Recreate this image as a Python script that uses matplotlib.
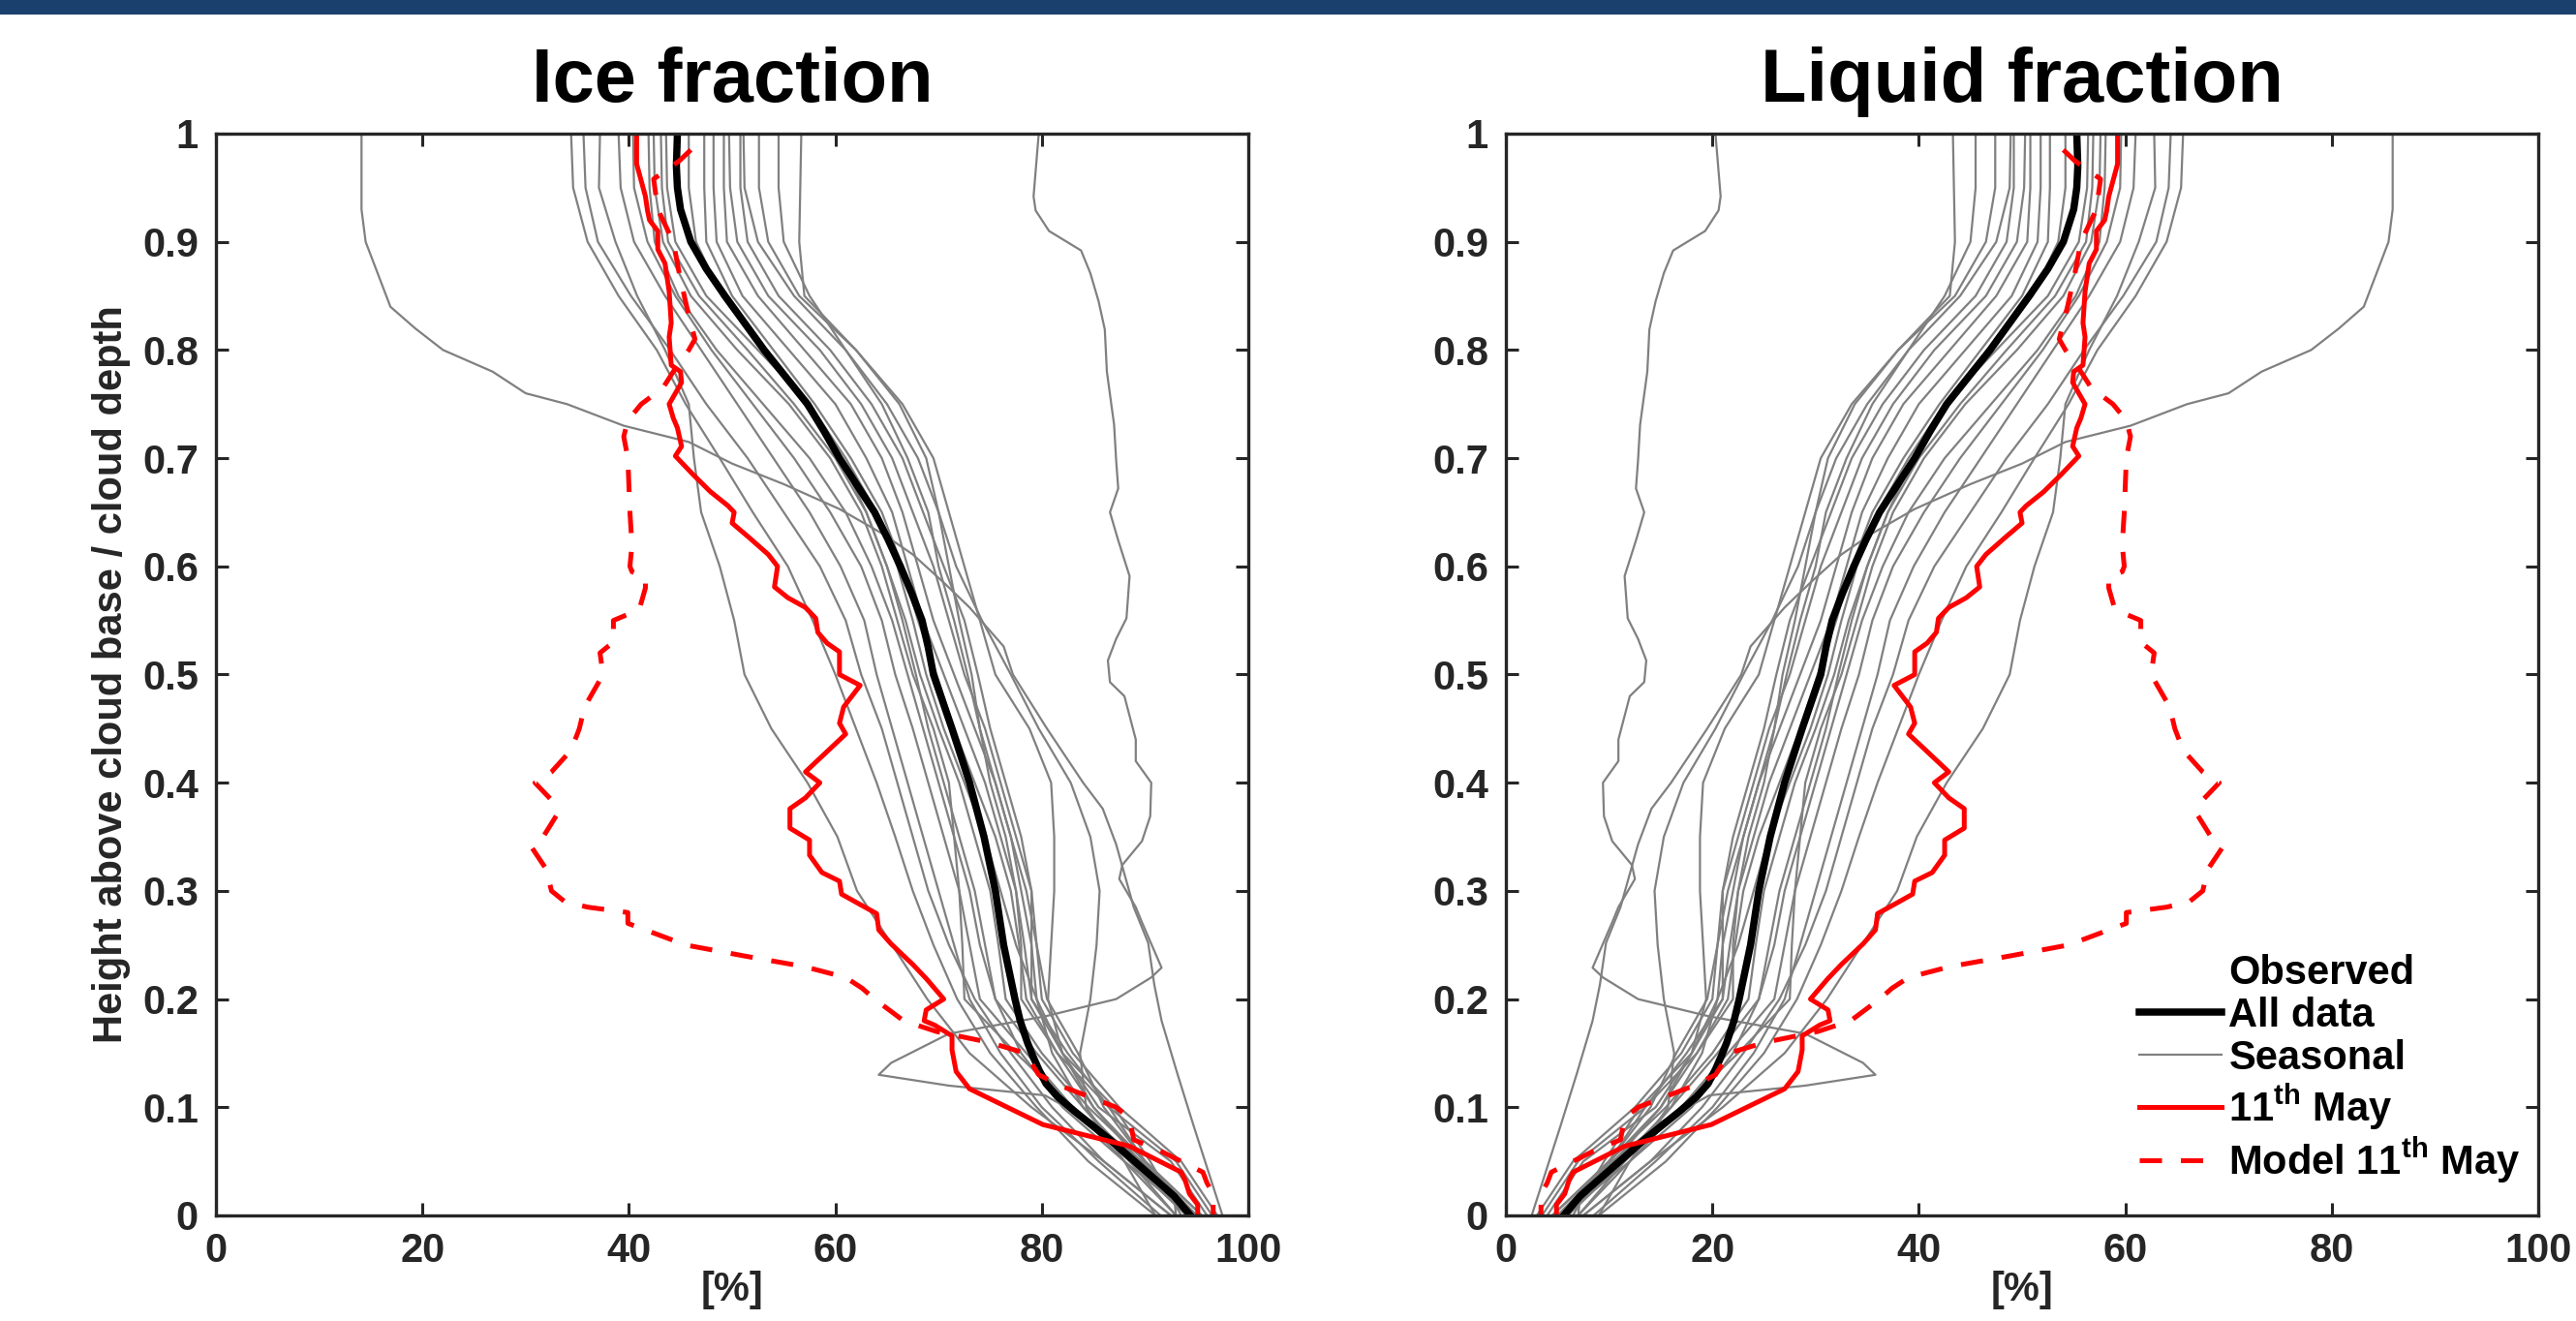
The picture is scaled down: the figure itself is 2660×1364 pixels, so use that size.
import numpy as np
import matplotlib
matplotlib.use("Agg")
import matplotlib.pyplot as plt
from matplotlib.lines import Line2D
from matplotlib.patches import Rectangle

plt.rcParams['font.family'] = ['Liberation Sans', 'DejaVu Sans']
plt.rcParams['font.weight'] = 'bold'
plt.rcParams['axes.labelweight'] = 'bold'
plt.rcParams['mathtext.fontset'] = 'custom'
plt.rcParams['mathtext.rm'] = 'Liberation Sans:bold'
plt.rcParams['mathtext.bf'] = 'Liberation Sans:bold'
plt.rcParams['mathtext.it'] = 'Liberation Sans:bold'

# ---- data (ice fraction, %); liquid = 100 - ice ----
levels = [1.0, 0.95, 0.9, 0.85, 0.8, 0.75, 0.7, 0.65, 0.6, 0.55, 0.5,
          0.45, 0.4, 0.35, 0.3, 0.25, 0.2, 0.15, 0.1, 0.05, 0.0]

all_y = [1.0, 0.97, 0.95, 0.93, 0.9, 0.875, 0.85, 0.825, 0.8, 0.775, 0.75, 0.725, 0.7,
         0.675, 0.65, 0.625, 0.6, 0.575, 0.55, 0.525, 0.5, 0.45, 0.4, 0.35, 0.3, 0.25,
         0.2, 0.18, 0.16, 0.148, 0.135, 0.122, 0.11, 0.096, 0.07, 0.044, 0.018, 0.0]
all_x = [44.7, 44.6, 44.7, 45.0, 46.0, 47.5, 49.3, 51.2, 53.1, 55.2, 57.3, 58.9, 60.4,
         62.1, 63.8, 65.1, 66.3, 67.4, 68.4, 69.0, 69.5, 71.3, 73.0, 74.4, 75.5, 76.3,
         77.4, 77.9, 78.6, 79.1, 79.7, 80.4, 81.5, 83.2, 86.6, 89.7, 92.8, 94.4]

# seasonal profiles on the common levels
seasonal = [
    [34.4, 34.6, 36.0, 39.0, 42.7, 45.5, 48.8, 52.0, 55.4, 57.8, 60.0, 62.0, 64.0, 65.8, 67.5, 69.5, 71.8, 75.0, 79.5, 84.5, 91.0],
    [35.6, 35.8, 37.0, 40.2, 44.0, 47.5, 51.5, 55.0, 58.5, 61.0, 62.5, 64.5, 66.0, 67.5, 69.0, 71.0, 73.5, 77.0, 81.0, 86.0, 92.5],
    [37.2, 37.1, 38.7, 40.8, 43.5, 45.8, 46.3, 47.0, 48.8, 50.2, 51.2, 53.8, 57.3, 60.2, 62.1, 65.5, 68.9, 73.0, 79.0, 86.0, 92.5],
    [39.0, 39.2, 40.5, 43.5, 47.0, 50.5, 54.0, 57.5, 60.5, 62.8, 64.0, 65.5, 67.0, 68.5, 70.0, 71.5, 73.0, 76.0, 80.0, 85.5, 91.5],
    [40.4, 40.5, 41.8, 44.5, 48.0, 52.0, 56.0, 59.5, 62.5, 64.5, 65.8, 67.5, 69.0, 70.5, 72.0, 73.0, 74.0, 78.5, 83.0, 88.5, 94.0],
    [41.9, 42.0, 42.5, 44.8, 48.5, 53.0, 57.5, 61.0, 63.5, 65.5, 67.0, 68.5, 70.0, 71.5, 73.0, 74.0, 75.5, 79.5, 84.0, 89.0, 95.0],
    [42.4, 42.5, 43.3, 46.0, 50.5, 55.5, 59.5, 62.5, 64.5, 66.0, 67.5, 69.5, 71.0, 71.5, 72.0, 72.3, 72.5, 77.5, 83.0, 88.0, 94.5],
    [43.1, 43.2, 43.8, 46.8, 51.5, 56.0, 60.0, 63.0, 65.0, 66.8, 68.2, 70.0, 72.0, 73.5, 75.0, 75.8, 76.5, 80.0, 84.5, 90.0, 95.5],
    [43.6, 43.7, 44.5, 47.5, 52.5, 57.5, 61.0, 64.0, 66.0, 67.5, 68.8, 70.5, 72.5, 74.5, 76.0, 77.5, 79.5, 82.0, 85.5, 92.5, 96.0],
    [45.8, 45.8, 46.5, 49.0, 53.0, 57.0, 60.5, 63.0, 65.0, 66.5, 67.8, 69.0, 70.5, 72.0, 73.5, 74.5, 75.5, 78.0, 82.0, 88.0, 93.0],
    [47.3, 47.3, 47.5, 50.0, 54.0, 58.0, 61.5, 64.5, 66.5, 68.0, 69.8, 71.5, 73.5, 75.5, 77.0, 77.8, 78.5, 81.5, 85.0, 89.5, 94.8],
    [48.2, 48.2, 48.5, 51.0, 55.5, 60.0, 63.0, 65.5, 67.0, 68.5, 70.5, 72.5, 74.5, 76.0, 77.5, 78.3, 79.0, 82.5, 86.5, 93.0, 96.5],
    [49.2, 49.2, 49.5, 52.5, 57.0, 61.5, 64.5, 66.5, 68.0, 69.5, 71.5, 73.5, 75.5, 77.0, 78.5, 79.5, 80.5, 83.5, 86.0, 90.0, 95.5],
    [49.7, 49.8, 50.5, 53.5, 58.5, 62.5, 65.5, 67.5, 69.5, 71.0, 72.5, 74.5, 76.0, 77.5, 79.0, 79.5, 80.0, 83.0, 87.5, 93.5, 97.0],
    [50.8, 50.8, 51.5, 54.5, 59.5, 63.5, 66.5, 68.5, 70.5, 72.5, 73.8, 75.0, 76.5, 78.0, 79.0, 79.0, 79.0, 82.0, 87.0, 90.5, 93.5],
    [51.1, 51.2, 52.5, 56.0, 61.0, 65.0, 68.0, 70.0, 71.0, 72.0, 73.2, 74.0, 75.0, 76.5, 77.5, 78.0, 78.0, 81.5, 86.5, 90.0, 94.0],
    [52.6, 52.6, 53.5, 56.5, 62.0, 66.5, 69.5, 71.0, 72.5, 74.0, 75.5, 78.8, 80.9, 81.2, 81.2, 80.9, 80.6, 82.0, 85.0, 90.0, 95.0],
    [54.5, 54.5, 55.0, 57.5, 61.0, 64.5, 67.0, 69.0, 70.0, 71.5, 72.8, 74.0, 75.5, 77.0, 78.0, 79.0, 79.5, 81.0, 84.0, 88.5, 93.0],
    [56.7, 56.6, 56.5, 57.0, 62.0, 66.2, 68.8, 70.0, 71.7, 74.2, 77.0, 79.7, 82.8, 84.7, 85.6, 85.3, 84.7, 83.7, 84.3, 88.0, 91.0],
]

# two odd seasonal profiles with their own height points
odd1_y = [1.0, 0.93, 0.9, 0.87, 0.84, 0.82, 0.8, 0.78, 0.76, 0.75, 0.73, 0.715, 0.695, 0.676,
          0.653, 0.63, 0.611, 0.585, 0.562, 0.526, 0.5, 0.45, 0.4, 0.376, 0.343, 0.285,
          0.252, 0.213, 0.18, 0.132, 0.083, 0.037, 0.0]
odd1_x = [14.1, 14.1, 14.5, 15.7, 16.9, 19.3, 22.0, 26.8, 30.0, 34.0, 39.5, 45.8, 50.0, 55.0,
          60.4, 64.6, 67.5, 70.5, 73.0, 76.3, 77.2, 80.5, 84.0, 85.9, 87.2, 88.9,
          90.3, 90.9, 91.6, 93.1, 94.7, 96.25, 97.5]

odd2_y = [1.0, 0.942, 0.929, 0.91, 0.892, 0.871, 0.845, 0.819, 0.78, 0.731, 0.698, 0.672,
          0.65, 0.624, 0.591, 0.552, 0.533, 0.513, 0.493, 0.48, 0.44, 0.42, 0.4, 0.369,
          0.346, 0.324, 0.311, 0.285, 0.271, 0.229, 0.22, 0.2, 0.184, 0.168, 0.141, 0.13,
          0.12, 0.111, 0.086, 0.05, 0.018, 0.0]
odd2_x = [79.7, 79.2, 79.4, 80.7, 83.8, 84.7, 85.5, 86.1, 86.3, 87.0, 87.2, 87.4,
          86.6, 87.4, 88.5, 88.2, 87.2, 86.4, 86.6, 88.0, 89.1, 89.1, 90.6, 90.5,
          89.7, 87.8, 87.5, 89.1, 89.7, 91.6, 90.6, 87.2, 80.3, 71.0, 65.4, 64.2,
          71.0, 80.3, 85.0, 89.7, 92.8, 93.0]

may_y = [1.0, 0.972, 0.942, 0.929, 0.92, 0.91, 0.893, 0.88, 0.854, 0.825, 0.812, 0.786, 0.78,
         0.77, 0.75, 0.737, 0.728, 0.711, 0.702, 0.685, 0.669, 0.656, 0.65, 0.64, 0.627,
         0.611, 0.6, 0.581, 0.571, 0.562, 0.552, 0.539, 0.529, 0.521, 0.5, 0.49, 0.47,
         0.455, 0.445, 0.41, 0.40, 0.386, 0.376, 0.358, 0.347, 0.333, 0.317, 0.309, 0.297,
         0.289, 0.279, 0.264, 0.251, 0.232, 0.219, 0.2, 0.19, 0.18, 0.176, 0.166, 0.153,
         0.133, 0.117, 0.084, 0.064, 0.04, 0.032, 0.02, 0.01, 0.0]
may_x = [40.75, 40.75, 41.6, 41.8, 42.0, 42.8, 42.8, 43.5, 43.9, 44.1, 43.9, 44.1, 45.0,
         45.1, 43.9, 44.3, 44.7, 45.1, 44.5, 46.2, 47.9, 49.6, 50.2, 50.0, 51.6,
         53.5, 54.4, 54.1, 55.4, 57.1, 58.1, 58.3, 59.2, 60.4, 60.4, 62.4, 60.8,
         60.4, 61.0, 57.1, 58.5, 57.1, 55.6, 55.6, 57.5, 57.5, 58.7, 60.4, 60.6,
         62.1, 64.0, 64.2, 65.4, 67.5, 68.8, 70.5, 68.8, 68.6, 69.6, 71.3, 71.3,
         71.7, 73.0, 80.1, 88.5, 93.5, 93.9, 94.3, 95.1, 95.1]

model_y = [0.985, 0.975, 0.958, 0.93, 0.9, 0.87, 0.84, 0.81, 0.8, 0.78, 0.765, 0.75, 0.735,
           0.72, 0.70, 0.65, 0.62, 0.60, 0.595, 0.59, 0.58, 0.56, 0.55, 0.53, 0.52, 0.5,
           0.47, 0.45, 0.43, 0.41, 0.40, 0.385, 0.37, 0.35, 0.34, 0.32, 0.30, 0.29, 0.285,
           0.28, 0.27, 0.26, 0.25, 0.24, 0.23, 0.22, 0.21, 0.2, 0.18, 0.17, 0.16, 0.15,
           0.13, 0.12, 0.1, 0.09, 0.07, 0.06, 0.04, 0.03, 0.02, 0.0]
model_x = [46.0, 44.9, 42.4, 42.8, 44.3, 44.9, 45.6, 46.4, 45.8, 44.3, 43.3, 41.2, 39.9,
           39.5, 39.9, 40.1, 40.3, 40.1, 40.3, 41.6, 41.6, 41.0, 38.5, 38.5, 37.2, 37.5,
           35.7, 35.2, 34.4, 32.5, 30.9, 32.4, 33.0, 31.7, 30.6, 32.0, 32.5, 33.8, 36.0,
           39.9, 39.9, 42.7, 45.5, 51.1, 57.0, 61.0, 62.6, 63.8, 66.6, 69.8, 74.9, 78.4,
           79.7, 81.8, 87.2, 88.5, 88.9, 91.4, 95.6, 96.0, 96.6, 96.6]

x_ticks = [0, 20, 40, 60, 80, 100]
x_ticklabels = ['0', '20', '40', '60', '80', '100']
y_ticks = [0, 0.1, 0.2, 0.3, 0.4, 0.5, 0.6, 0.7, 0.8, 0.9, 1.0]
y_ticklabels = ['0', '0.1', '0.2', '0.3', '0.4', '0.5', '0.6', '0.7', '0.8', '0.9', '1']

GREY = '#808080'
AXC = '#262626'
FS = 30


def draw_panel(ax, liquid, title):
    conv = (lambda v: 100 - np.asarray(v)) if liquid else (lambda v: np.asarray(v))
    for prof in seasonal:
        ax.plot(conv(prof), levels, color=GREY, lw=1.6)
    ax.plot(conv(odd1_x), odd1_y, color=GREY, lw=1.6)
    h_seas, = ax.plot(conv(odd2_x), odd2_y, color=GREY, lw=1.6)
    h_all, = ax.plot(conv(all_x), all_y, color='black', lw=5.4)
    h_may, = ax.plot(conv(may_x), may_y, color='red', lw=3.6)
    h_mod, = ax.plot(conv(model_x), model_y, color='red', lw=3.6,
                     dashes=(4.6, 3.9))

    ax.set_xlim(0, 100)
    ax.set_ylim(0, 1)
    ax.set_xticks(x_ticks)
    ax.set_xticklabels(x_ticklabels)
    ax.set_yticks(y_ticks)
    ax.set_yticklabels(y_ticklabels)
    ax.tick_params(direction='in', top=True, right=True, length=9.5, width=2.2,
                   color=AXC, labelcolor=AXC, labelsize=FS)
    ax.tick_params(axis='x', pad=12)
    ax.tick_params(axis='y', pad=13)
    for s in ax.spines.values():
        s.set_linewidth(2.4)
        s.set_color(AXC)
    ax.set_title(title, fontsize=56, fontweight='bold', pad=24)
    ax.set_xlabel('[%]', fontsize=FS, color=AXC, fontweight='bold', labelpad=0)
    return h_all, h_seas, h_may, h_mod


fig = plt.figure(figsize=(26.6, 13.64), dpi=100)
fig.add_artist(Rectangle((0, 1 - 15 / 1364), 1, 15 / 1364, transform=fig.transFigure,
                         facecolor='#1a416e', edgecolor='none'))

ax1 = fig.add_axes([223 / 2660, 109 / 1364, 1066 / 2660, 1117 / 1364])
ax2 = fig.add_axes([1555 / 2660, 109 / 1364, 1066 / 2660, 1117 / 1364])

draw_panel(ax1, False, 'Ice fraction')
h_all, h_seas, h_may, h_mod = draw_panel(ax2, True, 'Liquid fraction')

ax1.set_ylabel('Height above cloud base / cloud depth', fontsize=FS, color=AXC,
               fontweight='bold')
ax1.yaxis.set_label_coords(-0.083, 0.5)

blank = Line2D([], [], color='none')
ax2.legend([blank, h_all, h_seas, h_may, h_mod],
           ['Observed', 'All data', 'Seasonal', '11$^{\\rm th}$ May',
            'Model 11$^{\\rm th}$ May'],
           loc='upper left', bbox_to_anchor=(0.6135, 0.242), frameon=False,
           fontsize=FS, handlelength=2.05, handletextpad=0.17,
           labelspacing=0.1, borderpad=0, borderaxespad=0)

fig.savefig('out.png', dpi=100)
